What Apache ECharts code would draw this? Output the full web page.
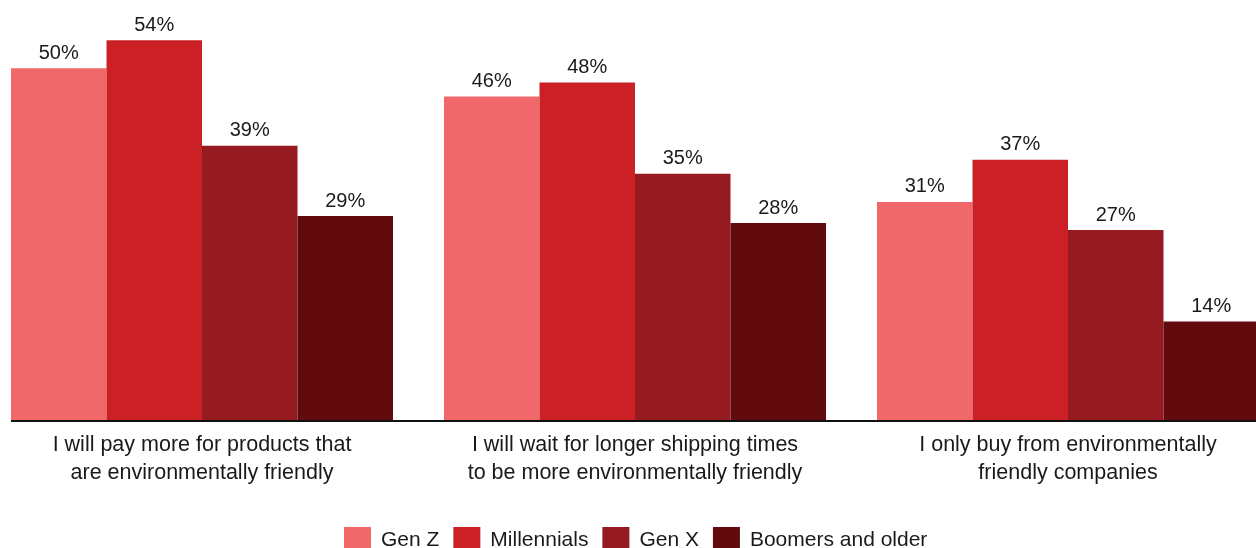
<!DOCTYPE html>
<html>
<head>
<meta charset="utf-8">
<title>Environmental attitudes by generation</title>
<script src="https://cdn.jsdelivr.net/npm/echarts@6/dist/echarts.min.js"></script>
<style>
  html, body { margin: 0; padding: 0; background: #fff; }
  #chart { width: 1256px; height: 548px; }
</style>
</head>
<body>
<div id="chart"></div>
<script>
// categories (statements)
const categories = [
  'I will pay more for products that\nare environmentally friendly',
  'I will wait for longer shipping times\nto be more environmentally friendly',
  'I only buy from environmentally\nfriendly companies'
];

// share of respondents, %
const genZ = [50, 46, 31];
const millennials = [54, 48, 37];
const genX = [39, 35, 27];
const boomers = [29, 28, 14];

const seriesNames = ['Gen Z', 'Millennials', 'Gen X', 'Boomers and older'];
const seriesColors = ['#f0686a', '#cc2027', '#951b20', '#620b0f'];

const textColor = '#1a1a1a';
const fontFamily = '"Liberation Sans", Arial, sans-serif';

const chart = echarts.init(document.getElementById('chart'));

// shared bar settings
const makeBar = (name, data, color) => ({
  name,
  type: 'bar',
  data,
  barWidth: 95.5,
  barGap: 0,
  itemStyle: { color },
  label: {
    show: true,
    position: 'top',
    distance: 5,
    formatter: '{c}%',
    color: textColor,
    fontSize: 20,
    fontFamily
  }
});

const option = {
  animation: false,
  textStyle: { fontFamily },
  // wider than the canvas so the first bar sits at the left edge
  grid: { left: -14.5, right: -28.5, top: -2, bottom: 128, outerBoundsMode: 'none', containLabel: false },
  legend: {
    top: 522,
    left: 339,
    itemWidth: 27,
    itemHeight: 26,
    itemGap: 14,
    icon: 'rect',
    textStyle: { color: textColor, fontSize: 21, fontFamily, padding: [0, 0, 0, 5] },
    data: seriesNames
  },
  xAxis: {
    type: 'category',
    data: categories,
    axisLine: { show: false },
    axisTick: { show: false },
    axisLabel: {
      interval: 0,
      margin: 11,
      color: textColor,
      fontSize: 21.5,
      fontFamily,
      lineHeight: 28,
      align: 'center'
    }
  },
  yAxis: {
    type: 'value',
    min: 0,
    max: 60,
    show: false,
    splitLine: { show: false }
  },
  // baseline drawn separately so it starts at the first bar
  graphic: [{
    type: 'line',
    shape: { x1: 11, y1: 421, x2: 1256, y2: 421 },
    style: { stroke: '#111', lineWidth: 2 },
    z: 10
  }],
  series: [
    makeBar(seriesNames[0], genZ, seriesColors[0]),
    makeBar(seriesNames[1], millennials, seriesColors[1]),
    makeBar(seriesNames[2], genX, seriesColors[2]),
    makeBar(seriesNames[3], boomers, seriesColors[3])
  ]
};

chart.setOption(option);
</script>
</body>
</html>
